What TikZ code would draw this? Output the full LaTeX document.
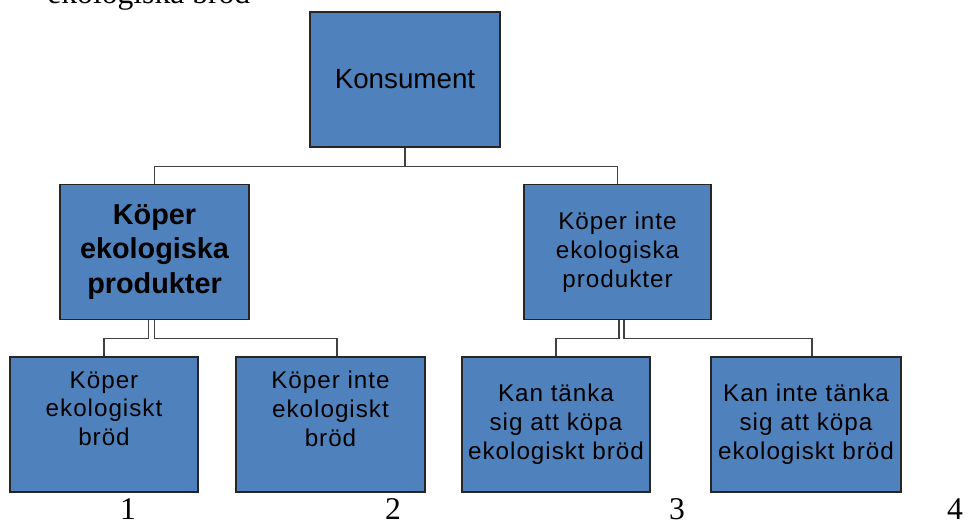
\documentclass[tikz,border=0pt]{standalone}
\usepackage{fontspec}
\setmainfont{Liberation Sans}
\newfontfamily\timesfont{Liberation Serif}
\newfontfamily\boxfont[LetterSpace=4]{Liberation Sans}
\usetikzlibrary{positioning}
\definecolor{boxblue}{HTML}{4F81BD}
\definecolor{linegray}{HTML}{404040}

\begin{document}
\begin{tikzpicture}[every node/.style={align=center},
  orgbox/.style={draw=black!85, line width=0.8pt, fill=boxblue, minimum width=3.78cm, minimum height=2.7cm, inner sep=0pt, font=\boxfont\fontsize{13.8}{16.4}\selectfont},
  conn/.style={draw=linegray, line width=0.7pt},
  numlabel/.style={anchor=base, inner sep=0pt, font=\timesfont\fontsize{18}{21}\selectfont}]
  \useasboundingbox (0,0) rectangle (19.4,-10.44);
  \clip (0,0) rectangle (19.4,-10.44);

  % Text left over from above
  \node (rest) [numlabel, anchor=base west] at (0.94,-0.06) {ekologiska bröd};

  % Top level
  \node (konsument) [orgbox, minimum width=3.8cm, font=\fontsize{15.8}{19}\selectfont] at (8.1,-1.59) {Konsument};

  % Second level
  \node (koper) [orgbox, font=\bfseries\fontsize{16.4}{19.8}\selectfont] at (3.09,-5.04) {Köper\\ekologiska\\produkter};
  \node (inte) [orgbox, minimum width=3.74cm] at (12.35,-5.04) {Köper inte\\ekologiska\\produkter};

  % Third level
  \node (brod) [orgbox, minimum width=3.76cm] at (2.08,-8.49) {Köper\\ekologiskt\\bröd\\[0.06cm]\mbox{}};
  \node (intebrod) [orgbox] at (6.61,-8.49) {Köper inte\\ekologiskt\\bröd\\[0.06cm]\mbox{}};
  \node (kan) [orgbox, minimum width=3.76cm] at (11.12,-8.49) {Kan tänka\\sig att köpa\\ekologiskt bröd};
  \node (kaninte) [orgbox, minimum width=3.8cm] at (16.12,-8.49) {Kan inte tänka\\sig att köpa\\ekologiskt bröd};

  % Connectors from the top
  \draw[conn] (konsument.south) -- ++(0,-0.38) -| (koper.north);
  \draw[conn] (konsument.south) -- ++(0,-0.38) -| (inte.north);

  % Left branch
  \draw[conn] ([xshift=-0.12cm]koper.south) -- ++(0,-0.36) -| (brod.north);
  \draw[conn] (koper.south) -- ++(0,-0.36) -| ([xshift=0.13cm]intebrod.north);

  % Right branch
  \draw[conn] ([xshift=0.03cm]inte.south) -- ++(0,-0.36) -| (kan.north);
  \draw[conn] ([xshift=0.13cm]inte.south) -- ++(0,-0.36) -| ([xshift=0.12cm]kaninte.north);

  % Numbers below
  \foreach \n/\x in {1/2.56, 2/7.86, 3/13.54, 4/19.1}
    \node (num\n) [numlabel] at (\x,-10.38) {\n};
\end{tikzpicture}
\end{document}
